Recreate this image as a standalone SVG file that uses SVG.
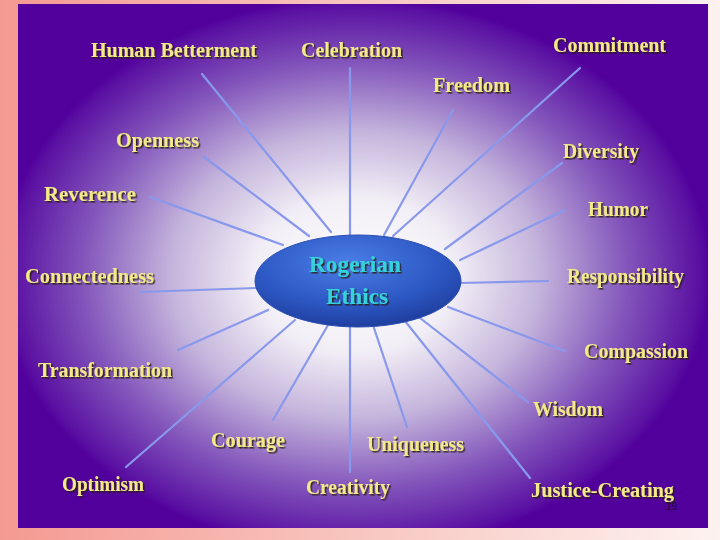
<svg xmlns="http://www.w3.org/2000/svg" width="720" height="540" viewBox="0 0 720 540">
<defs>
<linearGradient id="bg" x1="0" y1="0" x2="1" y2="0">
<stop offset="0" stop-color="#f49a92"/>
<stop offset="0.5" stop-color="#f8c6c0"/>
<stop offset="1" stop-color="#fdf2f0"/>
</linearGradient>
<radialGradient id="glow" gradientUnits="userSpaceOnUse" cx="355" cy="275" r="355" gradientTransform="translate(355 275) scale(1 0.78) translate(-355 -275)">
<stop offset="0" stop-color="#ffffff"/>
<stop offset="0.28" stop-color="#f2eef6"/>
<stop offset="0.52" stop-color="#c4b4dc"/>
<stop offset="0.76" stop-color="#8458bc"/>
<stop offset="0.97" stop-color="#5a10a2"/>
<stop offset="1" stop-color="#52009c"/>
</radialGradient>
<radialGradient id="hub" cx="0.45" cy="0.3" r="0.75">
<stop offset="0" stop-color="#4a7ee6"/>
<stop offset="0.6" stop-color="#2d58c4"/>
<stop offset="1" stop-color="#1c3a98"/>
</radialGradient>
<filter id="sh" x="-10%" y="-30%" width="120%" height="160%">
<feDropShadow dx="1.5" dy="1.5" stdDeviation="0.6" flood-color="#2a1a10" flood-opacity="0.9"/>
</filter>
</defs>
<style>
.lbl{font-family:"Liberation Serif","Times New Roman",serif;font-weight:bold;font-size:20px;fill:#f3e98a;filter:url(#sh)}
.hubt{font-family:"Liberation Serif","Times New Roman",serif;font-weight:bold;font-size:23px;fill:#36d2dc;text-anchor:middle;filter:url(#sh)}
.con line{stroke:#8898ec;stroke-width:2.2;stroke-linecap:round}
</style>
<rect width="720" height="540" fill="url(#bg)"/>
<rect x="18" y="4" width="690" height="524" fill="#52009c"/>
<rect x="18" y="4" width="690" height="524" fill="url(#glow)"/>
<g id="connectors" class="con">
<line x1="202" y1="74" x2="331" y2="232"/>
<line x1="204" y1="157" x2="309" y2="236"/>
<line x1="150" y1="197" x2="283" y2="245"/>
<line x1="350" y1="68" x2="350" y2="235"/>
<line x1="453" y1="110" x2="384" y2="235"/>
<line x1="580" y1="68" x2="393" y2="236"/>
<line x1="562" y1="163" x2="445" y2="249"/>
<line x1="565" y1="210" x2="460" y2="260"/>
<line x1="140" y1="292" x2="256" y2="288"/>
<line x1="178" y1="350" x2="268" y2="310"/>
<line x1="126" y1="467" x2="295" y2="320"/>
<line x1="273" y1="420" x2="328" y2="325"/>
<line x1="350" y1="325" x2="350" y2="472"/>
<line x1="460" y1="283" x2="548" y2="281"/>
<line x1="448" y1="307" x2="565" y2="351"/>
<line x1="420" y1="318" x2="528" y2="402"/>
<line x1="405" y1="321" x2="530" y2="478"/>
<line x1="373" y1="325" x2="407" y2="427"/>
</g>
<g id="hub-node">
<ellipse cx="358" cy="281" rx="103" ry="46" fill="url(#hub)" stroke="#2a4cb0" stroke-width="1"/>
<text class="hubt" x="355" y="272" textLength="92" lengthAdjust="spacingAndGlyphs">Rogerian</text>
<text class="hubt" x="357" y="304" textLength="62" lengthAdjust="spacingAndGlyphs">Ethics</text>
</g>
<g id="human-betterment"><text class="lbl" x="91" y="57" textLength="166" lengthAdjust="spacingAndGlyphs">Human Betterment</text></g>
<g id="celebration"><text class="lbl" x="301" y="57" textLength="101" lengthAdjust="spacingAndGlyphs">Celebration</text></g>
<g id="commitment"><text class="lbl" x="553" y="52" textLength="113" lengthAdjust="spacingAndGlyphs">Commitment</text></g>
<g id="freedom"><text class="lbl" x="433" y="92" textLength="77" lengthAdjust="spacingAndGlyphs">Freedom</text></g>
<g id="openness"><text class="lbl" x="116" y="147" textLength="83" lengthAdjust="spacingAndGlyphs">Openness</text></g>
<g id="diversity"><text class="lbl" x="563" y="158" textLength="76" lengthAdjust="spacingAndGlyphs">Diversity</text></g>
<g id="reverence"><text class="lbl" x="44" y="201" textLength="92" lengthAdjust="spacingAndGlyphs">Reverence</text></g>
<g id="humor"><text class="lbl" x="588" y="216" textLength="60" lengthAdjust="spacingAndGlyphs">Humor</text></g>
<g id="connectedness"><text class="lbl" x="25" y="283" textLength="129" lengthAdjust="spacingAndGlyphs">Connectedness</text></g>
<g id="responsibility"><text class="lbl" x="567" y="283" textLength="117" lengthAdjust="spacingAndGlyphs">Responsibility</text></g>
<g id="transformation"><text class="lbl" x="38" y="377" textLength="134" lengthAdjust="spacingAndGlyphs">Transformation</text></g>
<g id="compassion"><text class="lbl" x="584" y="358" textLength="104" lengthAdjust="spacingAndGlyphs">Compassion</text></g>
<g id="wisdom"><text class="lbl" x="533" y="416" textLength="70" lengthAdjust="spacingAndGlyphs">Wisdom</text></g>
<g id="courage"><text class="lbl" x="211" y="447" textLength="74" lengthAdjust="spacingAndGlyphs">Courage</text></g>
<g id="uniqueness"><text class="lbl" x="367" y="451" textLength="97" lengthAdjust="spacingAndGlyphs">Uniqueness</text></g>
<g id="optimism"><text class="lbl" x="62" y="491" textLength="82" lengthAdjust="spacingAndGlyphs">Optimism</text></g>
<g id="creativity"><text class="lbl" x="306" y="494" textLength="84" lengthAdjust="spacingAndGlyphs">Creativity</text></g>
<g id="justice-creating"><text class="lbl" x="531" y="497" textLength="143" lengthAdjust="spacingAndGlyphs">Justice-Creating</text></g>
<text x="666" y="510" font-family="Liberation Sans, Arial, sans-serif" font-size="10" fill="#1a1030">19</text>
</svg>
